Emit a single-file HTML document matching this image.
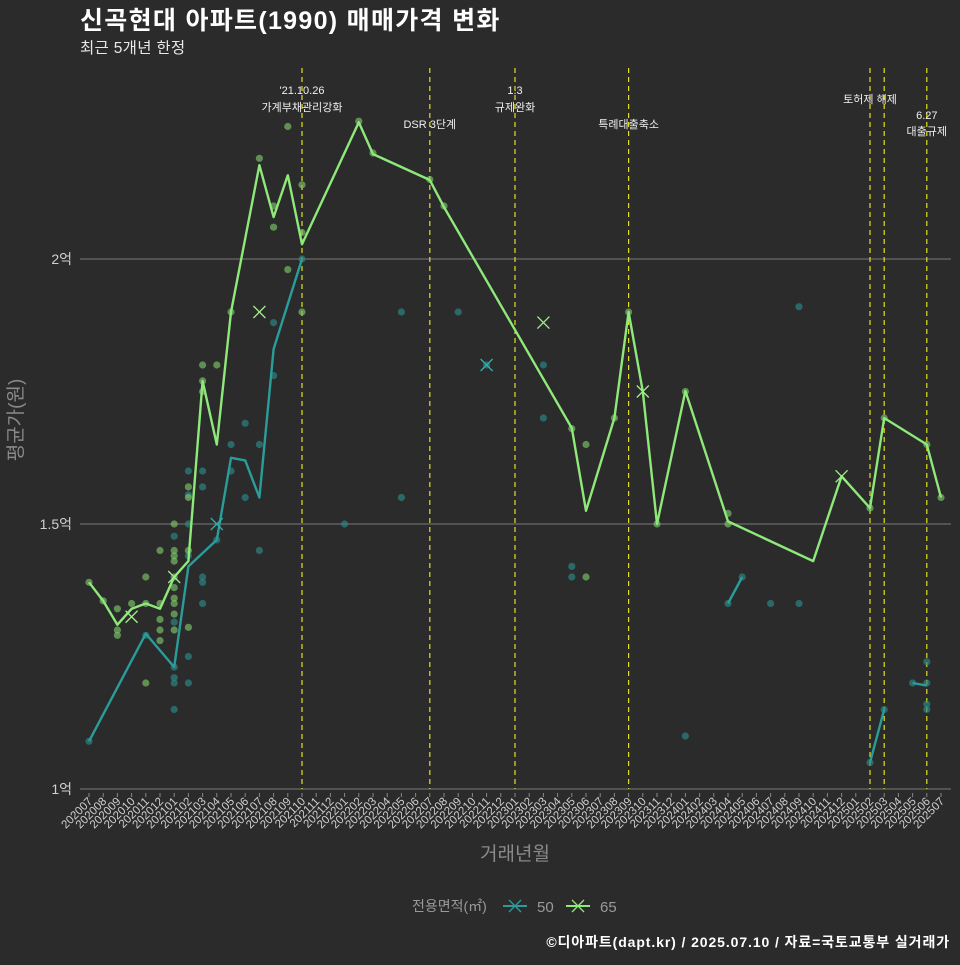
<!DOCTYPE html>
<html><head><meta charset="utf-8">
<style>
html,body{margin:0;padding:0;background:#2b2b2b;}
body{width:960px;height:960px;overflow:hidden;font-family:"Liberation Sans","Noto Sans CJK KR",sans-serif;}
svg text{font-family:"Liberation Sans","Noto Sans CJK KR",sans-serif;}
</style></head>
<body>
<svg id="chart" width="960" height="960" xmlns="http://www.w3.org/2000/svg">
<rect x="0" y="0" width="960" height="960" fill="#2b2b2b"/>
<text x="80" y="29" fill="#ffffff" font-size="25" font-weight="bold" letter-spacing="1.3">신곡현대 아파트(1990) 매매가격 변화</text>
<text x="80" y="53" fill="#e8e8e8" font-size="15.5" letter-spacing="0.3">최근 5개년 한정</text>
<g id="grid"></g>
<g id="vlines"></g>
<g id="marks"></g>
<g id="xaxis"></g>
<g id="yaxis"></g>
<text x="515" y="860" fill="#8a8a8a" font-size="19" text-anchor="middle">거래년월</text>
<text transform="translate(22,420) rotate(-90)" fill="#8a8a8a" font-size="19" text-anchor="middle">평균가(원)</text>
<g>
<text x="412" y="911" fill="#9a9a9a" font-size="14">전용면적(㎡)</text>
<g>
<line x1="503" y1="906" x2="527" y2="906" stroke="#2a9d9a" stroke-width="2"/>
<path d="M509,900 L521,912 M521,900 L509,912" stroke="#2a9d9a" stroke-width="1.3"/>
<text x="537" y="912" fill="#9a9a9a" font-size="15">50</text></g>
<g>
<line x1="566" y1="906" x2="590" y2="906" stroke="#8ee87a" stroke-width="2"/>
<path d="M572,900 L584,912 M584,900 L572,912" stroke="#8ee87a" stroke-width="1.3"/>
<text x="600" y="912" fill="#9a9a9a" font-size="15">65</text></g>
</g>
<text x="950" y="947" fill="#ffffff" font-size="14" font-weight="bold" letter-spacing="0.9" text-anchor="end">©디아파트(dapt.kr) / 2025.07.10 / 자료=국토교통부 실거래가</text>
</svg>
<script>
// ---- data ----
const months = [];
for (let y = 2020; y <= 2025; y++) for (let m = 1; m <= 12; m++) { const k = y*100+m; if (k >= 202007 && k <= 202507) months.push(String(k)); }
const yTicks = [1, 1.5, 2];
const yTickLabels = ["1억", "1.5억", "2억"];
// line series: [monthIndex, value(억)]
const line65 = [[0,1.39],[1,1.355],[2,1.31],[3,1.34],[4,1.35],[5,1.34],[6,1.40],[7,1.43],[8,1.77],[9,1.65],[10,1.90],[12,2.177],[13,2.079],[14,2.158],[15,2.028],[19,2.258],[20,2.198],[24,2.149],[25,2.098],[34,1.681],[35,1.525],[37,1.70],[38,1.90],[39,1.75],[40,1.50],[42,1.751],[45,1.505],[51,1.43],[53,1.59],[55,1.53],[56,1.70],[59,1.65],[60,1.55]];
const line50a = [[0,1.09],[4,1.293],[6,1.23],[7,1.42],[9,1.47],[10,1.625],[11,1.62],[12,1.55],[13,1.83],[15,2.0]];
const line50b = [[45,1.35],[46,1.40]];
const line50c = [[55,1.05],[56,1.15]];
const line50d = [[58,1.20],[59,1.195]];
const pts65 = [[0,1.39],[1,1.355],[2,1.34],[2,1.30],[2,1.29],[3,1.35],[4,1.40],[4,1.35],[4,1.20],[5,1.45],[5,1.35],[5,1.32],[5,1.30],[5,1.28],[6,1.50],[6,1.45],[6,1.44],[6,1.43],[6,1.40],[6,1.38],[6,1.36],[6,1.35],[6,1.33],[6,1.30],[7,1.45],[7,1.305],[7,1.57],[7,1.55],[8,1.80],[8,1.77],[8,1.75],[9,1.80],[10,1.90],[12,2.19],[13,2.10],[13,2.06],[14,2.25],[14,1.98],[15,2.14],[15,2.05],[15,1.90],[19,2.26],[20,2.20],[24,2.15],[25,2.10],[34,1.68],[35,1.65],[35,1.40],[37,1.70],[38,1.90],[40,1.50],[42,1.75],[45,1.52],[45,1.50],[55,1.53],[56,1.70],[59,1.65],[60,1.55]];
const pts50 = [[0,1.09],[4,1.29],[6,1.477],[6,1.315],[6,1.23],[6,1.21],[6,1.20],[6,1.15],[7,1.60],[7,1.555],[7,1.50],[7,1.44],[7,1.25],[7,1.20],[8,1.60],[8,1.57],[8,1.40],[8,1.39],[8,1.35],[9,1.47],[10,1.65],[10,1.60],[11,1.69],[11,1.55],[12,1.65],[12,1.45],[13,1.88],[13,1.78],[15,2.00],[18,1.50],[22,1.90],[22,1.55],[26,1.90],[28,1.80],[32,1.80],[32,1.70],[34,1.42],[34,1.40],[42,1.10],[45,1.35],[46,1.40],[48,1.35],[50,1.91],[50,1.35],[55,1.05],[56,1.15],[58,1.20],[59,1.24],[59,1.20],[59,1.16],[59,1.15]];
const x65 = [[3,1.325],[6,1.40],[12,1.90],[32,1.88],[39,1.75],[53,1.59]];
const x50 = [[9,1.50],[28,1.80]];
const eventIdx = [15, 24, 30, 38, 55, 56, 59];
const eventLabels = [["'21.10.26","가계부채관리강화"],["DSR 3단계"],["1.3","규제완화"],["특례대출축소"],["토허제 해제"],[],["6.27","대출규제"]];
const eventLabelY = [[94,111],[128],[94,111],[128],[103],[],[119,135]];
// ---- scales ----
const NS = "http://www.w3.org/2000/svg";
const xS = i => 89 + i*14.2;
const yS = v => 789 - (v-1)*530;
function mk(tag, attrs, parent){ const e=document.createElementNS(NS,tag); for(const k in attrs) e.setAttribute(k,attrs[k]); parent.appendChild(e); return e; }
const grid=document.getElementById('grid'), vl=document.getElementById('vlines'), mg=document.getElementById('marks'), xa=document.getElementById('xaxis'), ya=document.getElementById('yaxis');
yTicks.forEach((t,k)=>{
  const g=mk('line',{x1:80,x2:951,y1:yS(t),y2:yS(t),stroke:'#6a6a6a','stroke-width':1.2},grid);
  
  
  const tx=mk('text',{x:72,y:yS(t)+5,fill:'#d0d0d0','font-size':14,'text-anchor':'end'},ya);
  tx.textContent=yTickLabels[k];
  
  
});
months.forEach((m,i)=>{
  const x=xS(i);
  const t=mk('line',{x1:x,x2:x,y1:793,y2:797,stroke:'#888','stroke-width':1},xa);
  
  
  const tx=mk('text',{transform:`translate(${x+4},${802}) rotate(-45)`,fill:'#d0d0d0','font-size':11.5,'text-anchor':'end'},xa);
  tx.textContent=m;
  
  
});
eventIdx.forEach((ei,k)=>{
  const x=xS(ei);
  const l=mk('line',{x1:x,x2:x,y1:68,y2:789,stroke:'#e0e020','stroke-width':1.2,'stroke-dasharray':'5,4'},vl);
  
  
  eventLabels[k].forEach((s,j)=>{
    const tx=mk('text',{x:x,y:eventLabelY[k][j],fill:'#f0f0f0','font-size':11,'text-anchor':'middle'},vl);
    tx.textContent=s;
    
    
  });
});
function dots(arr,col,name){ arr.forEach(p=>{ const c=mk('circle',{cx:xS(p[0]),cy:yS(p[1]),r:3.6,fill:col,'fill-opacity':0.65},mg);
  
   }); }
function path(arr,col,name){ const d=arr.map((p,i)=>(i?'L':'M')+xS(p[0]).toFixed(1)+','+yS(p[1]).toFixed(1)).join(' ');
  const e=mk('path',{d:d,fill:'none',stroke:col,'stroke-width':2.4,'stroke-linejoin':'round'},mg);
  
   }
function xs(arr,col,name){ arr.forEach(p=>{ const x=xS(p[0]),y=yS(p[1]);
  const e=mk('path',{d:`M${x-6},${y-6}L${x+6},${y+6}M${x+6},${y-6}L${x-6},${y+6}`,stroke:col,'stroke-width':1.3},mg);
  
   }); }
dots(pts50,'#2a8a88','point-50');
dots(pts65,'#7cc46a','point-65');
[line50a,line50b,line50c,line50d].forEach(a=>path(a,'#2a9d9a','line-50'));
path(line65,'#8ee87a','line-65');
xs(x50,'#2fb0ac','x-marker-50');
xs(x65,'#a0f08a','x-marker-65');
</script>
</body></html>
